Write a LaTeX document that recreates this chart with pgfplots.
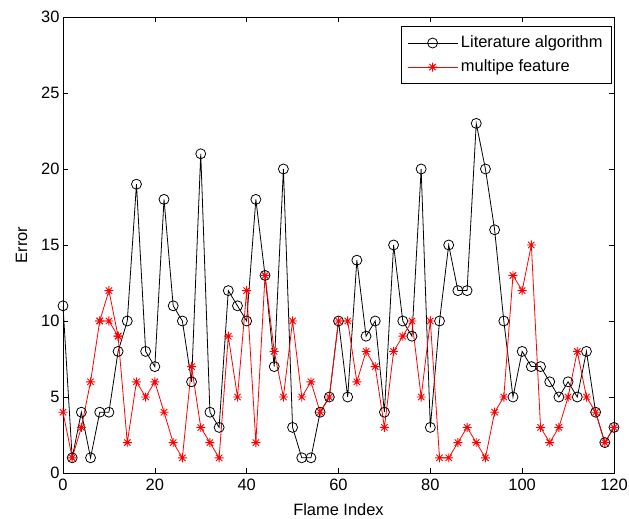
\documentclass[border=0pt]{standalone}
\usepackage{pgfplots}
\pgfplotsset{compat=1.18}
\usepackage{fontspec}
\setmainfont{Liberation Sans}
\pgfdeclareplotmark{mstar}{%
  \pgfpathmoveto{\pgfqpoint{-\pgfplotmarksize}{0pt}}\pgfpathlineto{\pgfqpoint{\pgfplotmarksize}{0pt}}%
  \pgfpathmoveto{\pgfqpoint{0pt}{-\pgfplotmarksize}}\pgfpathlineto{\pgfqpoint{0pt}{\pgfplotmarksize}}%
  \pgfpathmoveto{\pgfqpoint{-0.707\pgfplotmarksize}{-0.707\pgfplotmarksize}}\pgfpathlineto{\pgfqpoint{0.707\pgfplotmarksize}{0.707\pgfplotmarksize}}%
  \pgfpathmoveto{\pgfqpoint{-0.707\pgfplotmarksize}{0.707\pgfplotmarksize}}\pgfpathlineto{\pgfqpoint{0.707\pgfplotmarksize}{-0.707\pgfplotmarksize}}%
  \pgfusepathqstroke}
\begin{document}
\begin{tikzpicture}
\useasboundingbox (-63bp,-46bp) rectangle (566bp,473bp);
\begin{axis}[
  scale only axis, width=551bp, height=456bp,
  xmin=0, xmax=120, ymin=0, ymax=30,
  xtick={0,20,...,120}, ytick={0,5,...,30},
  tick align=inside, major tick length=5bp,
  xtick pos=both, ytick pos=both,
  font=\fontsize{16.5}{18}\selectfont,
  /pgf/number format/assume math mode=true,
  xticklabel style={yshift=-3bp},
  xlabel={Flame Index}, ylabel={Error},
  xlabel style={yshift=-6bp},
  ylabel style={yshift=7bp},
  axis line style={line width=0.8bp},
  every tick/.style={line width=0.6bp, black},
  legend style={at={(rel axis cs:0.9964,0.980)}, anchor=north east,
    draw=black, line width=0.8bp, inner xsep=6bp, inner ysep=4.5bp,
    row sep=0pt, font=\fontsize{16.5}{18}\selectfont,
    nodes={inner xsep=3bp, inner ysep=4.5bp, text height=11.5bp, text depth=3.5bp}},
  legend cell align=left,
  legend image code/.code={%
    \draw[mark repeat=2,mark phase=2,#1] plot coordinates {(0bp,0bp) (25bp,0bp) (50bp,0bp)};},
]
\addplot[black, line width=0.8bp, mark=o, mark size=5bp, mark options={line width=0.8bp}] coordinates {
(0,11) (2,1) (4,4) (6,1) (8,4) (10,4) (12,8) (14,10) (16,19) (18,8) (20,7) (22,18) (24,11) (26,10) (28,6) (30,21) (32,4) (34,3) (36,12) (38,11) (40,10) (42,18) (44,13) (46,7) (48,20) (50,3) (52,1) (54,1) (56,4) (58,5) (60,10) (62,5) (64,14) (66,9) (68,10) (70,4) (72,15) (74,10) (76,9) (78,20) (80,3) (82,10) (84,15) (86,12) (88,12) (90,23) (92,20) (94,16) (96,10) (98,5) (100,8) (102,7) (104,7) (106,6) (108,5) (110,6) (112,5) (114,8) (116,4) (118,2) (120,3)};
\addlegendentry{Literature algorithm}
\addplot[red, line width=0.8bp, mark=mstar, mark size=4.5bp, mark options={line width=0.9bp}] coordinates {
(0,4) (2,1) (4,3) (6,6) (8,10) (10,12) (12,9) (14,2) (16,6) (18,5) (20,6) (22,4) (24,2) (26,1) (28,7) (30,3) (32,2) (34,1) (36,9) (38,5) (40,12) (42,2) (44,13) (46,8) (48,5) (50,10) (52,5) (54,6) (56,4) (58,5) (60,10) (62,10) (64,6) (66,8) (68,7) (70,3) (72,8) (74,9) (76,10) (78,5) (80,10) (82,1) (84,1) (86,2) (88,3) (90,2) (92,1) (94,4) (96,5) (98,13) (100,12) (102,15) (104,3) (106,2) (108,3) (110,5) (112,8) (114,5) (116,4) (118,2) (120,3)};
\addlegendentry{multipe feature}
\addplot[red, line width=0.8bp, mark=mstar, mark size=4.5bp, mark options={line width=0.9bp}, forget plot] coordinates {(8,10) (10,10) (12,9)};
\end{axis}
\end{tikzpicture}
\end{document}
